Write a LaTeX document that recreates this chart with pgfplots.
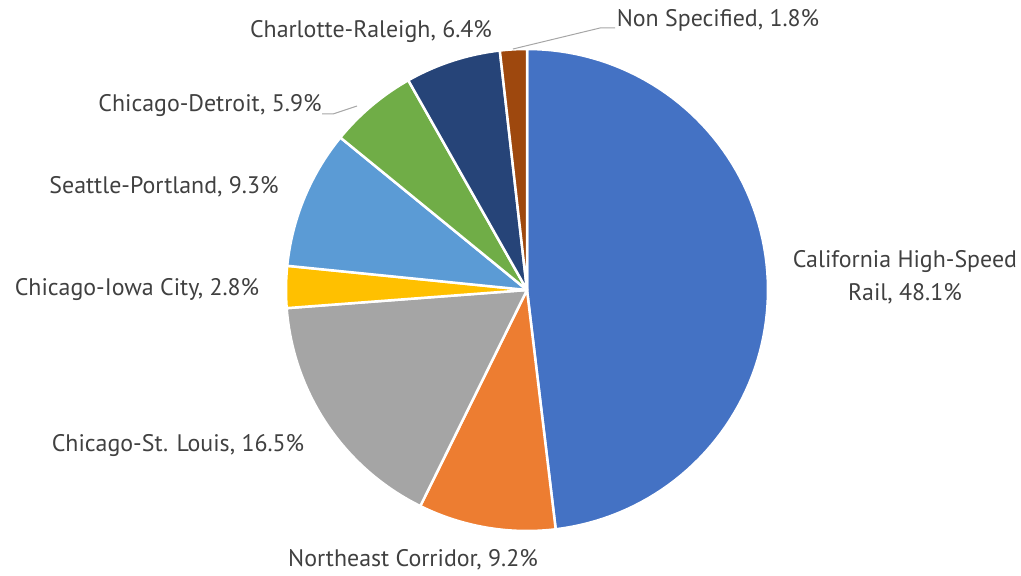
\documentclass[border=0pt]{standalone}
\usepackage{pgfplots}
\usepackage{pgfplotstable}
\usepackage{fontspec}
\setmainfont{PT Sans}
\pgfplotsset{compat=1.18}
\definecolor{cCal}{HTML}{4472C4}
\definecolor{cNE}{HTML}{ED7D31}
\definecolor{cStL}{HTML}{A5A5A5}
\definecolor{cIowa}{HTML}{FFC000}
\definecolor{cSea}{HTML}{5B9BD5}
\definecolor{cDet}{HTML}{70AD47}
\definecolor{cChar}{HTML}{264478}
\definecolor{cNon}{HTML}{9E480E}
\definecolor{txt}{HTML}{404040}
\definecolor{lead}{HTML}{A6A6A6}
\tikzset{lbl/.style={font=\fontsize{24}{33}\selectfont, text=txt, inner sep=0pt}}
\pgfplotstableread{
value color
48.1 cCal
9.2 cNE
16.5 cStL
2.8 cIowa
9.3 cSea
5.9 cDet
6.4 cChar
1.8 cNon
}\piedata
\begin{document}
\begin{tikzpicture}
\begin{axis}[hide axis, scale only axis, width=1021bp, height=575bp,
  xmin=0, xmax=1021, ymin=0, ymax=575, clip=false]
\path (0,0) rectangle (1021,575);
\def\startangle{90}
\pgfplotsforeachungrouped \i in {0,...,7}{%
  \pgfplotstablegetelem{\i}{value}\of\piedata \let\v\pgfplotsretval
  \pgfplotstablegetelem{\i}{color}\of\piedata \let\c\pgfplotsretval
  \pgfmathsetmacro\endangle{\startangle-3.6*\v}%
  \edef\temp{\noexpand\addplot[fill=\c, draw=white, line width=2.5bp, line join=round, domain=\endangle:\startangle, samples=90, variable=\noexpand\t] ({527+241*cos(\noexpand\t)},{285+241*sin(\noexpand\t)}) -- (527,285) -- cycle;}%
  \temp
  \global\let\startangle\endangle
}
% leader lines
\addplot[lead, line width=1bp, no marks] coordinates {(322,461) (333,461) (357,469)};
\addplot[lead, line width=1bp, no marks] coordinates {(615,547) (600,547) (513,526)};
% labels
\node[lbl, align=center] at (905,298) {California High-Speed\\Rail, 48.1\%};
\node[lbl] at (413,15) {Northeast Corridor, 9.2\%};
\node[lbl] at (178,129) {Chicago-St. Louis, 16.5\%};
\node[lbl] at (137,285) {Chicago-Iowa City, 2.8\%};
\node[lbl] at (164,388) {Seattle-Portland, 9.3\%};
\node[lbl] at (210,469) {Chicago-Detroit, 5.9\%};
\node[lbl] at (371,543) {Charlotte-Raleigh, 6.4\%};
\node[lbl] at (718,555) {Non Specified, 1.8\%};
\end{axis}
\end{tikzpicture}
\end{document}
